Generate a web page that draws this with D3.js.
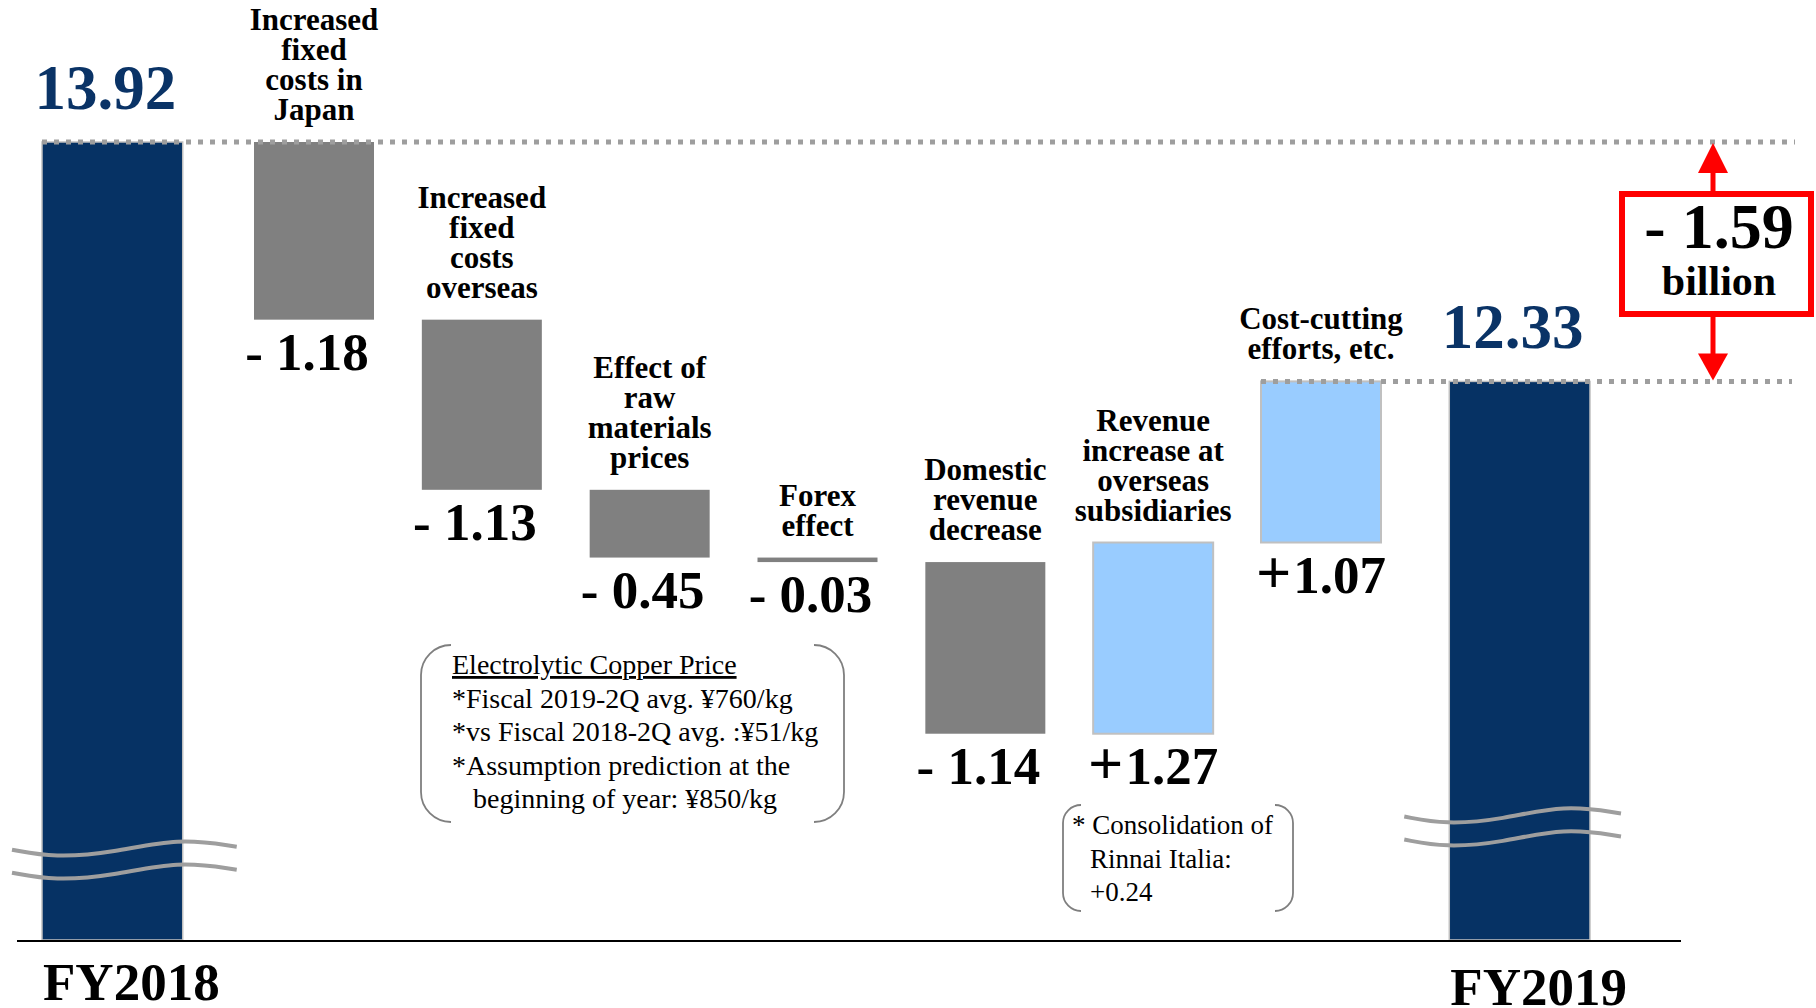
<!DOCTYPE html>
<html><head><meta charset="utf-8">
<script src="https://cdn.jsdelivr.net/npm/d3@7"></script>
<style>html,body{margin:0;padding:0;background:#fff;overflow:hidden}</style>
</head><body>
<svg id="chart" width="1816" height="1008"></svg>
<script>
// ---------------- data ----------------
const totalLabels = ["FY2018", "FY2019"];
const totalValues = [13.92, 12.33];
const stepCategories = [
  ["Increased", "fixed", "costs in", "Japan"],
  ["Increased", "fixed", "costs", "overseas"],
  ["Effect of", "raw", "materials", "prices"],
  ["Forex", "effect"],
  ["Domestic", "revenue", "decrease"],
  ["Revenue", "increase at", "overseas", "subsidiaries"],
  ["Cost-cutting", "efforts, etc."]
];
const stepValues = [-1.18, -1.13, -0.45, -0.03, -1.14, 1.27, 1.07];
const axisFloor = 8.62;           // value sitting on the broken baseline
const changeUnit = "billion";
const copperNote = [
  "Electrolytic Copper Price",
  "*Fiscal 2019-2Q avg. ¥760/kg",
  "*vs Fiscal 2018-2Q avg. :¥51/kg",
  "*Assumption prediction at the",
  "   beginning of year: ¥850/kg"
];
const italiaNote = ["* Consolidation of", "Rinnai Italia:", "+0.24"];

// ---------------- setup ----------------
const svg = d3.select("#chart");
const SERIF = "'Liberation Serif','Times New Roman',serif";
const NAVY = "#063264", GRAY = "#808080", LIGHT = "#99ccff", DOT = "#9e9e9e";

const stepKeys = stepCategories.map(d => d.join(" "));
let run = totalValues[0];
const steps = stepValues.map((v, i) => {
  const s = run; run = +(run + v).toFixed(2);
  return {key: stepKeys[i], lines: stepCategories[i], value: v, start: s, end: run};
});

const y = d3.scaleLinear().domain([axisFloor, totalValues[0]]).range([940, 142]);
const xTotal = d3.scaleBand().domain(totalLabels).range([42, 1590]).paddingInner(0.9);
const xStep = d3.scaleBand().domain(stepKeys).range([254, 1381]).paddingInner(0.285);

const num = v => d3.format(".2f")(Math.abs(v));

// ---------------- total bars ----------------
const totals = totalLabels.map((l, i) => ({label: l, value: totalValues[i]}));
svg.append("g").selectAll("rect").data(totals).join("rect")
  .attr("x", d => xTotal(d.label))
  .attr("y", d => y(d.value))
  .attr("width", xTotal.bandwidth())
  .attr("height", d => y(axisFloor) - y(d.value))
  .attr("fill", NAVY).attr("stroke", "#c0c0c0").attr("stroke-width", 1.5);

// break marks (wavy lines) on total bars
const wave = [[0, 0], [0.19, 8], [0.45, 3], [0.74, -12], [1, -3]];
const waveLine = d3.line().curve(d3.curveBasis);
const breakLevel = [9.22, 9.44];
totals.forEach((d, i) => {
  const x0 = xTotal(d.label) - (i === 0 ? 30 : 45);
  const x1 = xTotal(d.label) + xTotal.bandwidth() + (i === 0 ? 54 : 31);
  const yb = y(breakLevel[i]);
  [0, 23].forEach(off => {
    svg.append("path")
      .attr("d", waveLine(wave.map(p => [x0 + p[0] * (x1 - x0), yb + off + p[1]])))
      .attr("fill", "none").attr("stroke", DOT).attr("stroke-width", 4);
  });
});

// ---------------- step bars ----------------
svg.append("g").selectAll("rect").data(steps).join("rect")
  .attr("x", d => xStep(d.key))
  .attr("y", d => y(Math.max(d.start, d.end)))
  .attr("width", xStep.bandwidth())
  .attr("height", d => Math.abs(y(d.start) - y(d.end)))
  .attr("fill", d => d.value < 0 ? GRAY : LIGHT)
  .attr("stroke", d => d.value < 0 ? "none" : "#c0c0c0")
  .attr("stroke-width", 2);

// ---------------- dotted reference lines ----------------
svg.append("line")
  .attr("x1", xTotal("FY2018")).attr("x2", 1795)
  .attr("y1", y(totalValues[0])).attr("y2", y(totalValues[0]))
  .attr("stroke", DOT).attr("stroke-width", 5).attr("stroke-dasharray", "5 7");
svg.append("line")
  .attr("x1", xStep(stepKeys[stepKeys.length - 1])).attr("x2", 1792)
  .attr("y1", y(totalValues[1])).attr("y2", y(totalValues[1]))
  .attr("stroke", DOT).attr("stroke-width", 5).attr("stroke-dasharray", "5 7");

// ---------------- baseline ----------------
svg.append("line").attr("x1", 17).attr("x2", 1681)
  .attr("y1", y(axisFloor) + 1).attr("y2", y(axisFloor) + 1)
  .attr("stroke", "#000").attr("stroke-width", 2);

// ---------------- category + value labels ----------------
const LH = 30;
steps.forEach(d => {
  const top = y(Math.max(d.start, d.end));
  const cx = xStep(d.key) + xStep.bandwidth() / 2;
  const n = d.lines.length;
  const t = svg.append("text").attr("text-anchor", "middle")
    .attr("font-family", SERIF).attr("font-weight", "bold").attr("font-size", 31).attr("fill", "#000");
  d.lines.forEach((l, i) => {
    t.append("tspan").attr("x", cx).attr("y", top - 22 - (n - 1 - i) * LH).text(l);
  });
  const bottom = y(Math.min(d.start, d.end));
  const v = svg.append("text").attr("text-anchor", "middle")
    .attr("x", cx + (d.value < 0 ? -7 : 0)).attr("y", bottom + 50)
    .attr("font-family", SERIF).attr("font-weight", "bold").attr("font-size", 53).attr("fill", "#000");
  if (d.value < 0) {
    v.text("- " + num(d.value));
  } else {
    v.append("tspan").attr("font-size", 62).text("+");
    v.append("tspan").attr("dx", 2).text(num(d.value));
  }
});

// ---------------- total labels ----------------
totals.forEach((d, i) => {
  const cx = xTotal(d.label) + xTotal.bandwidth() / 2;
  svg.append("text").attr("text-anchor", "middle")
    .attr("x", cx - 7).attr("y", y(d.value) - 33)
    .attr("font-family", SERIF).attr("font-weight", "bold").attr("font-size", 63).attr("fill", "#0a3366")
    .text(d3.format(".2f")(d.value));
  svg.append("text").attr("text-anchor", "start")
    .attr("x", xTotal(d.label) + 1).attr("y", i === 0 ? 1000 : 1005)
    .attr("font-family", SERIF).attr("font-weight", "bold").attr("font-size", 53).attr("fill", "#000")
    .text(d.label);
});

// ---------------- change box with arrows ----------------
const change = +(totalValues[1] - totalValues[0]).toFixed(2);
const ax = 1713, RED = "#ff0000";
const yTop = y(totalValues[0]), yBot = y(totalValues[1]);
const boxTop = 194, boxBot = 314;
svg.append("line").attr("x1", ax).attr("x2", ax).attr("y1", yTop + 28).attr("y2", boxTop)
  .attr("stroke", RED).attr("stroke-width", 5);
svg.append("line").attr("x1", ax).attr("x2", ax).attr("y1", boxBot).attr("y2", yBot - 26)
  .attr("stroke", RED).attr("stroke-width", 5);
svg.append("path").attr("d", `M${ax},${yTop + 1}L${ax - 15},${yTop + 31}L${ax + 15},${yTop + 31}Z`).attr("fill", RED);
svg.append("path").attr("d", `M${ax},${yBot - 1}L${ax - 15},${yBot - 28}L${ax + 15},${yBot - 28}Z`).attr("fill", RED);
svg.append("rect").attr("x", 1622).attr("y", boxTop).attr("width", 189).attr("height", boxBot - boxTop)
  .attr("fill", "#fff").attr("stroke", RED).attr("stroke-width", 6);
svg.append("text").attr("text-anchor", "middle").attr("x", 1719).attr("y", 248)
  .attr("font-family", SERIF).attr("font-weight", "bold").attr("font-size", 64).attr("fill", "#000")
  .text("- " + num(change));
svg.append("text").attr("text-anchor", "middle").attr("x", 1719).attr("y", 295)
  .attr("font-family", SERIF).attr("font-weight", "bold").attr("font-size", 42).attr("fill", "#000")
  .text(changeUnit);

// ---------------- note brackets ----------------
function brackets(l, r, t, b, rad) {
  const p = `M${l + rad},${t}A${rad},${rad} 0 0 0 ${l},${t + rad}L${l},${b - rad}A${rad},${rad} 0 0 0 ${l + rad},${b}` +
            `M${r - rad},${t}A${rad},${rad} 0 0 1 ${r},${t + rad}L${r},${b - rad}A${rad},${rad} 0 0 1 ${r - rad},${b}`;
  svg.append("path").attr("d", p).attr("fill", "none").attr("stroke", "#7f7f7f").attr("stroke-width", 1.8);
}
brackets(421, 844, 645, 822, 30);
copperNote.forEach((l, i) => {
  svg.append("text").attr("x", 452).attr("y", 674 + i * 33.5)
    .attr("font-family", SERIF).attr("font-size", 28).attr("fill", "#000")
    .attr("xml:space", "preserve").style("white-space", "pre")
    .attr("text-decoration", i === 0 ? "underline" : null)
    .text(l);
});
brackets(1063, 1293, 805, 911, 18);
italiaNote.forEach((l, i) => {
  svg.append("text").attr("x", i === 0 ? 1072 : 1090).attr("y", 834 + i * 33.5)
    .attr("font-family", SERIF).attr("font-size", 27).attr("fill", "#000")
    .text(l);
});
</script>
</body></html>
